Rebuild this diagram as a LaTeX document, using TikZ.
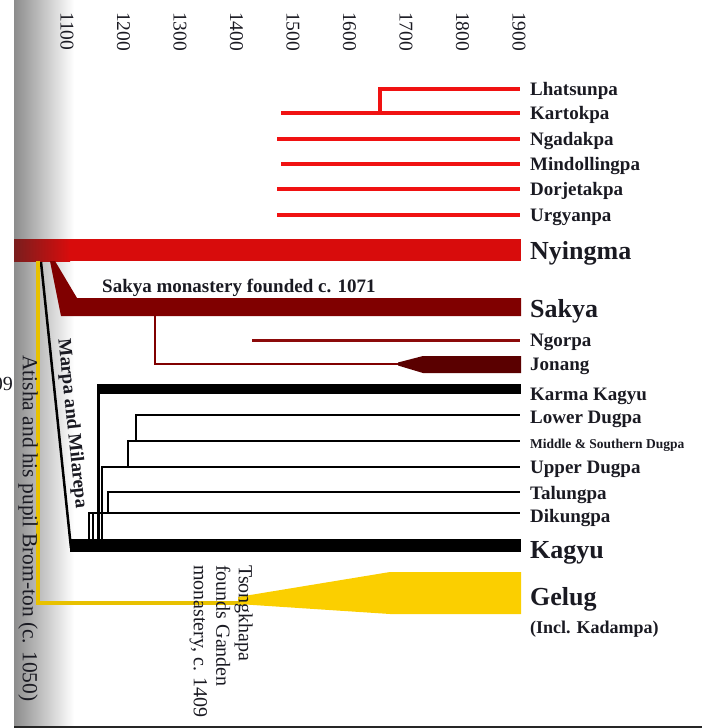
\documentclass[tikz,border=0pt]{standalone}
\usepackage{fontspec}
\setmainfont{Liberation Serif}
\usetikzlibrary{positioning,calc}
\definecolor{nyred}{HTML}{D80C0C}
\definecolor{nydark}{HTML}{7A1E1E}
\definecolor{nysub}{HTML}{F01212}
\definecolor{sakred}{HTML}{800000}
\definecolor{jonred}{HTML}{5A0000}
\definecolor{ngored}{HTML}{8C0A0A}
\definecolor{gelgold}{HTML}{FBCF00}
\definecolor{lineyel}{HTML}{E8C100}
\definecolor{lblink}{HTML}{1A1A22}
\tikzset{
  lbl/.style={anchor=base west,inner xsep=10pt,inner ysep=0pt,text=lblink,
              font=\fontsize{19}{19}\selectfont\bfseries},
  biglbl/.style={lbl,font=\fontsize{26}{26}\selectfont\bfseries},
  smalllbl/.style={lbl,font=\fontsize{13.5}{13.5}\selectfont\bfseries},
  yrlbl/.style={rotate=-90,anchor=west,inner sep=0pt,text=lblink,
                font=\fontsize{19.5}{19.5}\selectfont},
  note/.style={inner sep=0pt,text=lblink,font=\fontsize{20}{22.5}\selectfont},
  nysubline/.style={draw=nysub,line width=3.3pt},
  kgline/.style={draw=black,line width=2.4pt},
  yelline/.style={draw=lineyel,line width=4pt}
}

\begin{document}
\begin{tikzpicture}[x=1pt,y=-1pt]
\useasboundingbox (0,0) rectangle (702,728);
\shade[left color=black!45,right color=white] (14,0) rectangle (74,725);
\draw[line width=2pt,black!85] (14,726.5) -- (702,726.5);

% time axis
\foreach \yr [count=\i from 0] in {1100,1200,...,1900}
  \node[yrlbl] (yr\yr) at (67+56.5*\i,12) {\yr};

% Nyingma
\shade[left color=nydark,right color=nyred] (14,239) rectangle (70,261);
\fill[nyred] (69,239) rectangle (521,261);
\node[biglbl] (nyingma) at (520,259) {Nyingma};

\node[lbl] (lhatsunpa) at (520,95) {Lhatsunpa};
\node[lbl] (kartokpa) at (520,119) {Kartokpa};
\node[lbl] (ngadakpa) at (520,145) {Ngadakpa};
\node[lbl] (mindollingpa) at (520,170) {Mindollingpa};
\node[lbl] (dorjetakpa) at (520,195) {Dorjetakpa};
\node[lbl] (urgyanpa) at (520,221) {Urgyanpa};
\draw[nysubline] (380,113) |- (lhatsunpa.west |- 0,89);
\foreach \nm/\yy/\xs in {kartokpa/113/281,ngadakpa/139/277,mindollingpa/164/281,
                         dorjetakpa/189/277,urgyanpa/215/277}
  \draw[nysubline] (\xs,\yy) -- (\nm.west |- 0,\yy);

% Sakya
\fill[sakred] (50,261) -- (55,261) -- (77,298) -- (521,298) -- (521,316) -- (61,316) -- cycle;
\node[biglbl] (sakya) at (520,317) {Sakya};
\node[lbl,inner xsep=0pt] (sakfound) at (102,292) {Sakya monastery founded c. 1071};
\node[lbl] (ngorpa) at (520,346) {Ngorpa};
\node[lbl] (jonang) at (520,370) {Jonang};
\draw[draw=ngored,line width=3pt] (252,340) -- (ngorpa.west |- 0,340);
\draw[draw=sakred,line width=2.6pt] (155,316) |- (402,364);
\fill[jonred] (398,362.5) -- (423,356) -- (521,356) -- (521,373) -- (423,373) -- (398,365.5) -- cycle;

% Kagyu
\coordinate (marpatop) at (41,262);
\coordinate (marpabot) at (71,548);
\fill[black] (70,539) rectangle (521,552);
\draw[black,line width=2.5pt] (marpatop) -- (marpabot);
\node[lbl,rotate=-84,anchor=south,inner sep=5pt] (marpa) at ($(marpatop)!0.57!(marpabot)$) {Marpa and Milarepa};
\node[biglbl] (kagyu) at (520,558) {Kagyu};
\node[lbl] (karmakagyu) at (520,400) {Karma Kagyu};
\node[lbl] (lowerdugpa) at (520,423) {Lower Dugpa};
\node[smalllbl] (middugpa) at (520,448) {Middle \& Southern Dugpa};
\node[lbl] (upperdugpa) at (520,473) {Upper Dugpa};
\node[lbl] (talungpa) at (520,499) {Talungpa};
\node[lbl] (dikungpa) at (520,522) {Dikungpa};
\fill[black] (97,384) rectangle (521,394);
\draw[kgline] (98.5,545) -- (98.5,386);
\draw[kgline] (136,441) |- (lowerdugpa.west |- 0,415);
\draw[kgline] (128,467) |- (middugpa.west |- 0,441);
\draw[kgline] (102,545) |- (upperdugpa.west |- 0,467);
\draw[kgline] (93,545) |- (108,513) |- (talungpa.west |- 0,492);
\draw[kgline] (89,545) |- (dikungpa.west |- 0,513);

% Gelug
\draw[yelline] (38,261) |- (245,603);
\fill[gelgold] (238,597) -- (390,572) -- (521,572) -- (521,614) -- (390,614) -- (238,604) -- cycle;
\node[biglbl] (gelug) at (520,605) {Gelug};
\node[lbl,font=\fontsize{18}{18}\selectfont\bfseries] (kadampa) at (520,633) {(Incl. Kadampa)};
\node[note,rotate=-90,anchor=north west,align=left] (tsong) at (253,565)
  {Tsongkhapa\\founds Ganden\\monastery, c. 1409};
\node[note,rotate=-90,anchor=west,font=\fontsize{21.5}{21.5}\selectfont] (atisha) at (28,355)
  {Atisha and his pupil Brom-ton (c. 1050)};
\node[note,anchor=base east] (cut) at (13,390) {09};
\end{tikzpicture}
\end{document}
